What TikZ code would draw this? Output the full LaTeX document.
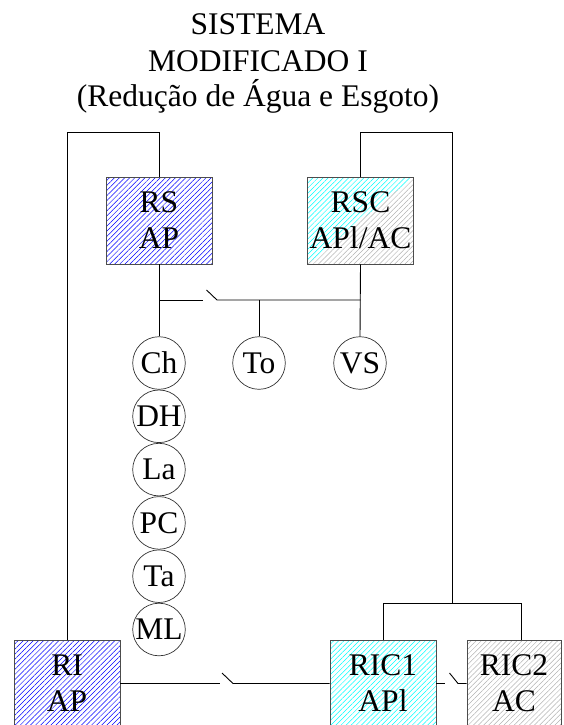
\documentclass[tikz,border=0pt]{standalone}
\usepackage{fontspec}
\setmainfont{Liberation Serif}
\usetikzlibrary{positioning,patterns.meta}

\begin{document}
\begin{tikzpicture}[
  x=1pt, y=-1pt,
  every node/.style={font=\fontsize{31.5}{36}\selectfont},
  wire/.style={draw=black, line width=0.9pt},
  unit/.style={draw=black!70, line width=0.9pt, align=center, inner sep=0pt, minimum width=106pt, minimum height=87pt},
  hatch/.style={pattern={Lines[angle=45,distance=3.6pt,line width=0.5pt]}, pattern color=#1},
  disc/.style={circle, draw=black!80, line width=0.7pt, inner sep=0pt, minimum size=52.6pt}
]
  \useasboundingbox (0,0) rectangle (563,725);
  \clip (0,0) rectangle (563,725);

  % title
  \node[anchor=base] (ttl1) at (258,35) {SISTEMA};
  \node[anchor=base] (ttl2) at (258,71) {MODIFICADO I};
  \node[anchor=base] (ttl3) at (258,106) {(Redução de Água e Esgoto)};

  % reservatorios superiores
  \node[unit, hatch=blue] (rs) at (159,220.5) {RS\\AP};
  \node[unit, path picture={
      \path[hatch=cyan] (path picture bounding box.south west) -- (path picture bounding box.north west) -- (path picture bounding box.north east) -- cycle;
      \path[hatch=gray!60] (path picture bounding box.south west) -- (path picture bounding box.south east) -- (path picture bounding box.north east) -- cycle;
    }] (rsc) at (360.5,220.5) {RSC\\APl/AC};

  % pontos de consumo
  \node[disc] (ch) at (159,363) {Ch};
  \node[disc, below=0pt of ch] (dh) {DH};
  \node[disc, below=0pt of dh] (la) {La};
  \node[disc, below=0pt of la] (pc) {PC};
  \node[disc, below=0pt of pc] (ta) {Ta};
  \node[disc, below=0pt of ta] (ml) {ML};
  \node[disc] (to) at (259,363) {To};
  \node[disc] (vs) at (360,363) {VS};

  % reservatorios inferiores
  \node[unit, hatch=blue] (ri) at (67,683.5) {RI\\AP};
  \node[unit, hatch=cyan] (ric1) at (383,683.5) {RIC1\\APl};
  \node[unit, hatch=gray!60, minimum width=94pt] (ric2) at (514,683.5) {RIC2\\AC};

  \coordinate (railL) at (0,132);
  \coordinate (fork) at (452,603);
  \coordinate (ric2top) at ([xshift=7pt]ric2.north);
  \coordinate (swA) at (203,300);
  \coordinate (swB) at (206.5,290);
  \coordinate (swC) at (217,300);
  \coordinate (swD) at (220,683.5);
  \coordinate (swE) at (222,673);
  \coordinate (swF) at (233,683.5);
  \coordinate (swG) at (445,683.5);
  \coordinate (swH) at (449.5,673);
  \coordinate (swI) at (458,683.5);

  % recalque
  \draw[wire] (ri.north) -- (ri.north |- railL) -| (rs.north);
  \draw[wire] (rsc.north) -- (rsc.north |- railL) -| (fork);
  \draw[wire] (ric1.north) |- (ric2top |- fork) -- (ric2top);

  % distribuicao
  \draw[wire] (rs.south) -- (ch.north);
  \draw[wire] (rsc.south) -- (vs.north);
  \draw[wire] (rs.south |- swA) -- (swA);
  \draw[wire] (swB) -- (swC) -- (rsc.south |- swC);
  \draw[wire] (to.north) -- (to.north |- swC);

  % ligacoes inferiores
  \draw[wire] (ri.east) -- (swD);
  \draw[wire] (swE) -- (swF) -- (ric1.west);
  \draw[wire] (ric1.east) -- (swG);
  \draw[wire] (swH) -- (swI) -- (ric2.west);
\end{tikzpicture}
\end{document}
